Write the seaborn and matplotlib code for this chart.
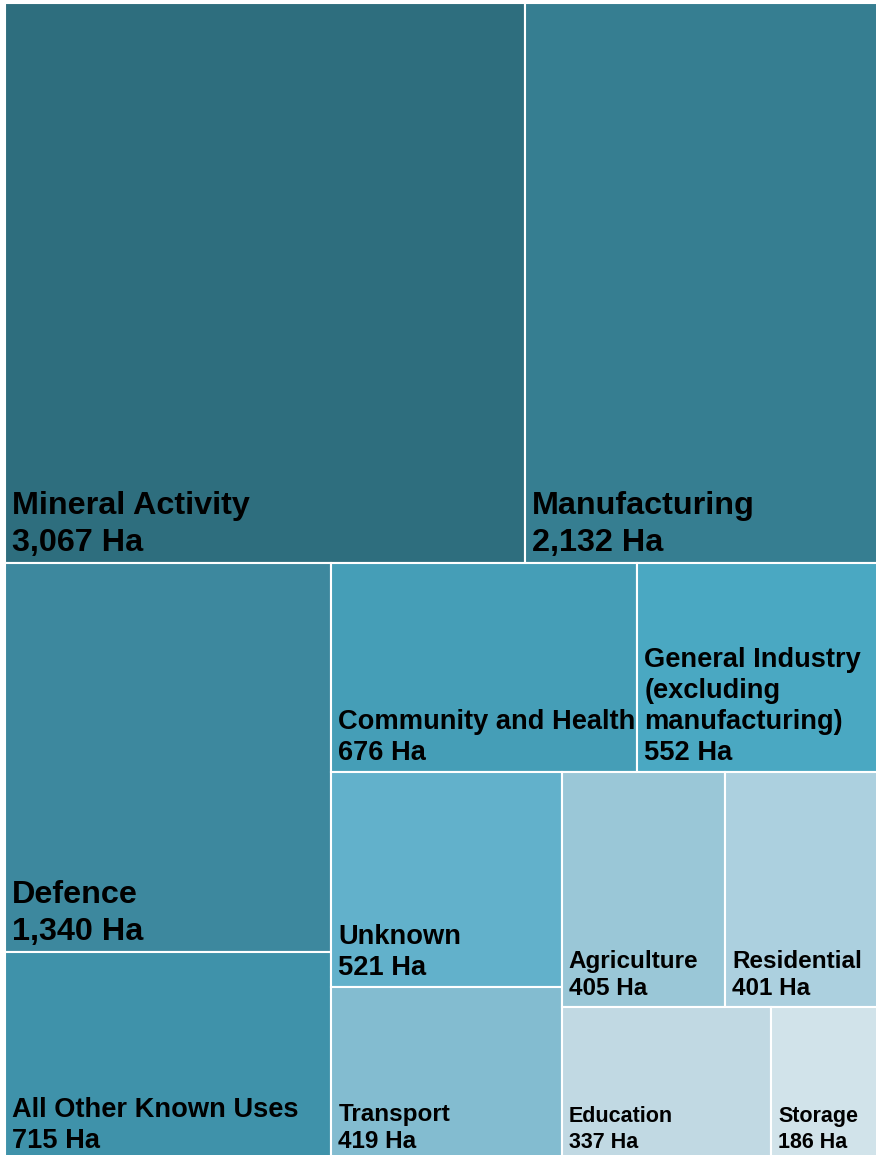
import matplotlib
matplotlib.use("Agg")
import matplotlib.pyplot as plt
from matplotlib.patches import Rectangle
import seaborn as sns

# Land use by area (hectares)
categories = [
    "Mineral Activity",
    "Manufacturing",
    "Defence",
    "All Other Known Uses",
    "Community and Health",
    "General Industry\n(excluding\nmanufacturing)",
    "Unknown",
    "Transport",
    "Agriculture",
    "Residential",
    "Education",
    "Storage",
]
hectares = [3067, 2132, 1340, 715, 676, 552, 521, 419, 405, 401, 337, 186]

tile_colors = [
    "#2E6E7E", "#367E91", "#3D889E", "#3F92AA", "#459EB7", "#4AA8C2",
    "#62B1CB", "#83BCD0", "#9AC7D7", "#ACD0DF", "#C1D9E3", "#D1E3EA",
]

sns.set_theme(style="white")
plt.rcParams["font.family"] = ["Liberation Sans", "DejaVu Sans"]

# Canvas of the treemap in pixel-like units
MAP_W, MAP_H = 882.0, 1157.0


def worst_ratio(row, side):
    s = sum(row)
    return max(max(side * side * r / (s * s), (s * s) / (side * side * r)) for r in row)


def squarify(areas, x, y, w, h):
    rects = []
    rest = list(areas)
    while rest:
        side = min(w, h)
        row = [rest[0]]
        for a in rest[1:]:
            if worst_ratio(row + [a], side) <= worst_ratio(row, side):
                row.append(a)
            else:
                break
        s = sum(row)
        if w >= h:
            cw = s / h
            yy = y
            for a in row:
                rh = a / cw
                rects.append((x, yy, cw, rh))
                yy += rh
            x += cw
            w -= cw
        else:
            rh = s / w
            xx = x
            for a in row:
                rw = a / rh
                rects.append((xx, y, rw, rh))
                xx += rw
            y += rh
            h -= rh
        rest = rest[len(row):]
    return rects


total = float(sum(hectares))
areas = [v / total * MAP_W * MAP_H for v in hectares]
rects = squarify(areas, 0.0, 0.0, MAP_W, MAP_H)


def label_style(v):
    # font size (pt) and line step (px) by tile magnitude
    if v >= 1000:
        return 23.3, 37
    if v >= 500:
        return 19.6, 31
    if v >= 400:
        return 17.5, 27
    return 15.5, 26


fig = plt.figure(figsize=(8.76, 11.55), dpi=100)
fig.patch.set_facecolor("white")
ax = fig.add_axes([0, 0, 1, 1])
ax.set_xlim(-5, 871)
ax.set_ylim(1152, -3)
ax.axis("off")

for (x, y, w, h), name, v, c in zip(rects, categories, hectares, tile_colors):
    ax.add_patch(Rectangle((x, y), w, h, facecolor=c, edgecolor="white", linewidth=1.5))
    size, step = label_style(v)
    lines = name.split("\n") + [f"{v:,} Ha"]
    base = y + h - 12
    for k, line in enumerate(reversed(lines)):
        ax.text(x + 7, base - k * step, line, ha="left", va="baseline",
                fontsize=size, fontweight="bold", color="black")

fig.savefig("out.png", dpi=100)
